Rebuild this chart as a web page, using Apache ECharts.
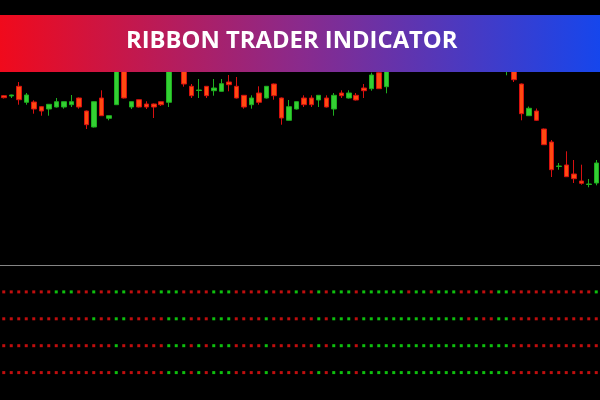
<!DOCTYPE html>
<html>
<head>
<meta charset="utf-8">
<script src="https://cdn.jsdelivr.net/npm/echarts@6/dist/echarts.min.js"></script>
<style>html,body{margin:0;padding:0;background:#000;}#c{width:600px;height:400px;}</style>
</head>
<body>
<div id="c"></div>
<script>
const title = 'RIBBON TRADER INDICATOR';
const bars = Array.from({length: 80}, (_, i) => 'B' + (i + 1));
const open = [1.11663,1.11660,1.11757,1.11597,1.11600,1.11553,1.11530,1.11550,1.11550,1.11573,
  1.11640,1.11510,1.11350,1.11640,1.11437,1.11573,1.12020,1.11550,1.11623,1.11580,
  1.11580,1.11603,1.11597,1.12040,1.11960,1.11757,1.11715,1.11757,1.11713,1.11707,
  1.11800,1.11757,1.11667,1.11573,1.11690,1.11640,1.11780,1.11640,1.11417,1.11530,
  1.11640,1.11640,1.11620,1.11640,1.11530,1.11690,1.11640,1.11667,1.11740,1.11733,
  1.11893,1.11753,1.11980,1.12100,1.12040,1.12200,1.12320,1.12240,1.12350,1.12420,
  1.12320,1.12220,1.12280,1.12160,1.12070,1.12140,1.12020,1.11960,1.11980,1.11780,
  1.11463,1.11510,1.11330,1.11200,1.10955,1.10970,1.10880,1.10810,1.10775,1.10790];
const close = [1.11643,1.11670,1.11623,1.11670,1.11530,1.11510,1.11577,1.11603,1.11603,1.11603,
  1.11550,1.11373,1.11603,1.11463,1.11463,1.12000,1.11640,1.11603,1.11550,1.11550,
  1.11550,1.11573,1.12020,1.11980,1.11780,1.11663,1.11720,1.11663,1.11740,1.11783,
  1.11773,1.11640,1.11550,1.11640,1.11597,1.11757,1.11663,1.11440,1.11553,1.11603,
  1.11573,1.11573,1.11667,1.11550,1.11667,1.11663,1.11690,1.11620,1.11713,1.11870,
  1.11733,1.12000,1.12120,1.12040,1.12220,1.12320,1.12240,1.12360,1.12420,1.12320,
  1.12220,1.12280,1.12160,1.12070,1.12140,1.12020,1.11980,1.12020,1.11823,1.11483,
  1.11537,1.11417,1.11173,1.10923,1.10960,1.10853,1.10833,1.10787,1.10780,1.10990];
const low = [1.11635,1.11640,1.11573,1.11573,1.11483,1.11463,1.11463,1.11545,1.11533,1.11550,
  1.11533,1.11330,1.11345,1.11460,1.11417,1.11570,1.11635,1.11530,1.11545,1.11530,
  1.11440,1.11560,1.11550,1.11950,1.11753,1.11640,1.11640,1.11640,1.11663,1.11705,
  1.11707,1.11635,1.11533,1.11533,1.11573,1.11635,1.11623,1.11373,1.11415,1.11525,
  1.11550,1.11550,1.11550,1.11545,1.11463,1.11640,1.11635,1.11615,1.11640,1.11713,
  1.11730,1.11687,1.11960,1.12000,1.12010,1.12170,1.12210,1.12220,1.12320,1.12290,
  1.12180,1.12190,1.12130,1.12040,1.12050,1.12000,1.11950,1.11867,1.11800,1.11417,
  1.11460,1.11410,1.11170,1.10850,1.10923,1.10850,1.10790,1.10773,1.10747,1.10767];
const high = [1.11670,1.11673,1.11800,1.11690,1.11617,1.11560,1.11580,1.11640,1.11605,1.11670,
  1.11645,1.11515,1.11605,1.11717,1.11465,1.12040,1.12060,1.11605,1.11625,1.11607,
  1.11585,1.11605,1.12070,1.12100,1.12000,1.11780,1.11830,1.11760,1.11830,1.11830,
  1.11870,1.11850,1.11670,1.11667,1.11757,1.11760,1.11785,1.11645,1.11620,1.11605,
  1.11667,1.11667,1.11670,1.11667,1.11690,1.11717,1.11717,1.11690,1.11780,1.11893,
  1.11910,1.12040,1.12170,1.12140,1.12260,1.12360,1.12350,1.12400,1.12450,1.12440,
  1.12340,1.12310,1.12300,1.12190,1.12170,1.12160,1.12050,1.12060,1.12020,1.11785,
  1.11555,1.11535,1.11335,1.11220,1.10990,1.11107,1.11020,1.10973,1.10830,1.11020];
// ribbon signals: 1 = bullish (green), -1 = bearish (red)
const ribbon1 = [-1,-1,-1,-1,-1,-1,-1,1,1,1,-1,-1,1,-1,-1,1,1,-1,-1,-1,
  -1,1,1,1,-1,-1,-1,-1,1,1,1,-1,-1,-1,-1,1,-1,-1,-1,1,
  -1,-1,1,-1,1,1,1,-1,1,1,1,1,1,1,-1,1,1,-1,1,1,
  1,-1,-1,1,-1,-1,1,1,-1,-1,-1,-1,-1,-1,-1,-1,-1,-1,-1,1];
const ribbon2 = [-1,-1,-1,-1,-1,-1,-1,-1,-1,-1,-1,-1,1,-1,-1,1,1,-1,-1,-1,
  -1,-1,1,1,1,-1,-1,-1,1,1,1,-1,-1,-1,-1,1,-1,-1,-1,-1,
  -1,-1,1,-1,1,1,1,-1,1,1,1,1,1,1,1,1,1,1,1,1,
  1,1,-1,1,-1,-1,1,1,-1,-1,-1,-1,-1,-1,-1,-1,-1,-1,-1,-1];
const ribbon3 = [-1,-1,-1,-1,-1,-1,-1,-1,-1,-1,-1,-1,-1,-1,-1,1,-1,-1,-1,-1,
  -1,-1,1,1,1,-1,1,-1,1,1,1,-1,-1,-1,-1,1,-1,-1,-1,-1,
  -1,-1,1,-1,1,1,1,-1,1,1,1,1,1,1,1,1,1,1,1,1,
  1,1,1,1,1,1,1,1,-1,-1,-1,-1,-1,-1,-1,-1,-1,-1,-1,-1];
const ribbon4 = [-1,-1,-1,-1,-1,-1,-1,-1,-1,-1,-1,-1,-1,-1,-1,1,-1,-1,-1,-1,
  -1,-1,1,1,1,-1,1,-1,1,1,1,-1,-1,-1,-1,1,-1,-1,-1,-1,
  -1,-1,1,-1,1,1,1,-1,1,1,1,1,1,1,1,1,1,1,1,1,
  1,1,1,1,1,1,1,1,-1,-1,-1,-1,-1,-1,-1,-1,-1,-1,-1,-1];
const ribbons = [ribbon1, ribbon2, ribbon3, ribbon4];

const UP = '#33d033', UP_B = '#1fae1f', DN = '#ff4a10', DN_B = '#d81010';
const candleData = bars.map((_, i) => [open[i], close[i], low[i], high[i]]);

const dotSeries = ribbons.map((r, k) => ({
  type: 'scatter', xAxisIndex: 1, yAxisIndex: 1,
  symbol: 'rect', symbolSize: 3, silent: true,
  data: r.map((v, i) => ({value: [i, k + 1], itemStyle: {color: v > 0 ? '#12f012' : '#f01212'}}))
}));

const chart = echarts.init(document.getElementById('c'), null, {renderer: 'canvas'});
chart.setOption({
  backgroundColor: '#000',
  animation: false,
  grid: [
    {left: -1, width: 601.6, top: 0, height: 262},
    {left: -1, width: 601.6, top: 265, height: 134.5}
  ],
  xAxis: [
    {type: 'category', gridIndex: 0, data: bars, show: false, boundaryGap: true},
    {type: 'category', gridIndex: 1, data: bars, position: 'top', boundaryGap: true,
     axisLine: {show: true, lineStyle: {color: '#858585', width: 1}},
     axisTick: {show: false}, axisLabel: {show: false}}
  ],
  yAxis: [
    {type: 'value', gridIndex: 0, min: 1.1000, max: 1.1262, show: false, scale: true},
    {type: 'value', gridIndex: 1, min: 0, max: 5, inverse: true, show: false}
  ],
  series: [{
    type: 'candlestick', xAxisIndex: 0, yAxisIndex: 0,
    data: candleData, barWidth: 5,
    itemStyle: {color: UP, color0: DN, borderColor: UP_B, borderColor0: DN_B, borderWidth: 1}
  }].concat(dotSeries),
  graphic: [
    {type: 'rect', z: 100, shape: {x: 0, y: 15, width: 600, height: 57},
     style: {fill: new echarts.graphic.LinearGradient(0, 0, 1, 0, [
       {offset: 0, color: '#f00a1c'}, {offset: 0.5, color: '#8a2a8c'}, {offset: 1, color: '#1646ec'}])}},
    {type: 'text', z: 101, left: 126, top: 29,
     style: {text: title, fill: '#fff', font: '700 23.8px "Open Sans"'}}
  ]
});
</script>
</body>
</html>
